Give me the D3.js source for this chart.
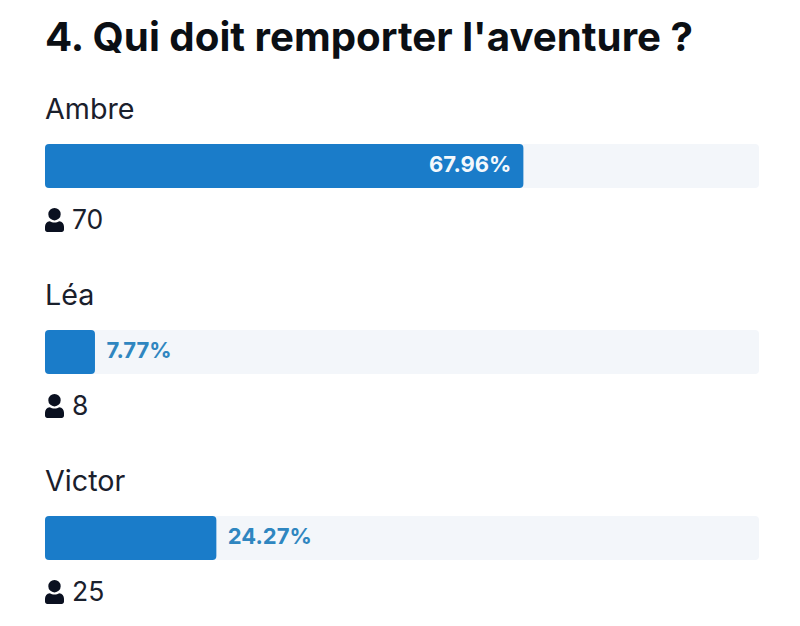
<!DOCTYPE html>
<html>
<head>
<meta charset="utf-8">
<script src="https://cdnjs.cloudflare.com/ajax/libs/d3/7.8.5/d3.min.js"></script>
<style>
html, body { margin: 0; padding: 0; background: #fff; }
svg { display: block; }
text { font-family: Inter, sans-serif; }
</style>
</head>
<body>
<svg id="poll" width="800" height="626"></svg>
<script>
var title = "4. Qui doit remporter l'aventure ?";
var names = ["Ambre", "Léa", "Victor"];
var percents = [67.96, 7.77, 24.27];
var votes = [70, 8, 25];
// the bars are drawn from the whole-number part of the percentage
var barPercents = [67, 7, 24];

var svg = d3.select("#poll");

var xRange = d3.scaleLinear().domain([0, 100]).range([45, 759]);
var yRange = d3.scalePoint().domain(names).range([144, 516]);
var barHeight = 44;

svg.append("text")
    .attr("x", 45)
    .attr("y", 51)
    .attr("font-size", 40.25)
    .attr("font-weight", 700)
    .attr("fill", "#0b0f14")
    .text(title);

var rows = svg.selectAll("g.row")
    .data(names)
    .enter().append("g")
    .attr("class", "row");

rows.append("text")
    .attr("x", 45)
    .attr("y", function (d) { return yRange(d) - 25; })
    .attr("font-size", 28.7)
    .attr("fill", "#1a202c")
    .text(function (d) { return d; });

rows.append("rect")
    .attr("x", xRange(0))
    .attr("y", function (d) { return yRange(d); })
    .attr("width", xRange(100) - xRange(0))
    .attr("height", barHeight)
    .attr("rx", 4)
    .attr("fill", "#f3f6fa");

rows.append("rect")
    .attr("x", xRange(0))
    .attr("y", function (d) { return yRange(d); })
    .attr("width", function (d, i) { return xRange(barPercents[i]) - xRange(0); })
    .attr("height", barHeight)
    .attr("rx", 4)
    .attr("fill", "#1a7cc9");

rows.append("text")
    .attr("x", function (d, i) {
        return percents[i] > 50 ? xRange(barPercents[i]) - 12 : xRange(barPercents[i]) + 11.5;
    })
    .attr("y", function (d) { return yRange(d) + barHeight / 2 + 6; })
    .attr("text-anchor", function (d, i) { return percents[i] > 50 ? "end" : "start"; })
    .attr("font-size", 22)
    .attr("font-weight", 700)
    .attr("fill", function (d, i) { return percents[i] > 50 ? "#f4f8fc" : "#2f86c0"; })
    .text(function (d, i) { return percents[i].toFixed(2) + "%"; });

// person icon
rows.append("path")
    .attr("transform", function (d) { return "translate(45," + (yRange(d) + 64) + ")"; })
    .attr("d", "M9.500 0a6.200 6.200 0 1 1 0 12.400a6.200 6.200 0 1 1 0-12.400z" +
               "M4.800 13.300c1.300 .8 2.900 1.300 4.700 1.300s3.400-.5 4.700-1.300c3 .3 4.800 2.600 4.800 5.400v2.800c0 1.400-1 2.500-2.300 2.500H2.300C1 24 0 22.900 0 21.500v-2.800c0-2.800 1.800-5.100 4.800-5.400z")
    .attr("fill", "#0a1020");

rows.append("text")
    .attr("x", 72)
    .attr("y", function (d) { return yRange(d) + 85; })
    .attr("font-size", 26.5)
    .attr("fill", "#1a202c")
    .text(function (d, i) { return votes[i]; });
</script>
</body>
</html>
